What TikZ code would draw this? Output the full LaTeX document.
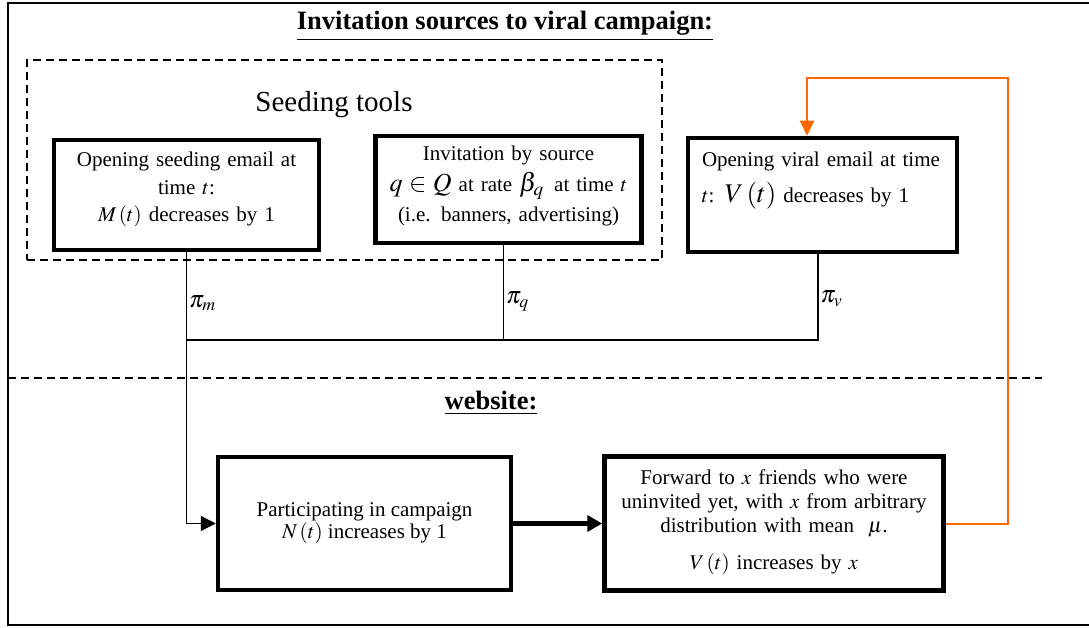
\documentclass[tikz,border=0pt]{standalone}
\usepackage{mathptmx}
\usepackage[no-math]{fontspec}
\setmainfont{Liberation Serif}
\usetikzlibrary{positioning,arrows.meta}

\definecolor{loopcolor}{RGB}{255,102,0}

\tikzset{
  stage/.style={draw, line width=4.5pt, inner sep=0pt, align=center,
    font=\fontsize{21}{27.5}\selectfont},
  link/.style={line width=1.3pt},
  pilabel/.style={right, inner xsep=2pt, font=\fontsize{24}{24}\selectfont},
  heading/.style={font=\fontsize{26.5}{30}\selectfont\bfseries},
  divider/.style={line width=1.5pt, dash pattern=on 8pt off 5pt},
  loopback/.style={draw=loopcolor, line width=2pt},
}

\begin{document}
\begin{tikzpicture}[x=1pt, y=-1pt]

  % page frame, open on the right
  \useasboundingbox (0,0) rectangle (1089,628);
  \clip (0,0) rectangle (1089,628);
  \draw[line width=2pt] (1100,3) -| (8,625) -- (1100,625);

  % Define nodes
  \node[heading] (title) at (505,26) {\underline{Invitation sources to viral campaign:}};
  \node[divider, draw, inner sep=0pt, minimum width=635pt, minimum height=200pt] (seedframe) at (344.5,160) {};
  \node[font=\fontsize{29}{30}\selectfont] (seedtitle) at (334,105) {Seeding tools};

  \node[stage, text width=265pt, text height=27pt, text depth=83pt] (mbox) at (186.5,195)
    {Opening seeding email at\\ time $t$:\\ $M\left(t\right)$ decreases by 1};
  \node[stage, text width=266pt, text height=25pt, text depth=82pt,
        font=\fontsize{21}{30.5}\selectfont, right=52pt of mbox, yshift=5.5pt] (qbox)
    {Invitation by source\\
     {\fontsize{26}{26}\selectfont$q\in Q$} at rate {\fontsize{26}{26}\selectfont$\beta_{q}$}\, at time $t$\\
     (i.e. banners, advertising)};
  \node[stage, align=left, inner xsep=14pt, text width=241pt, text height=29pt, text depth=85pt,
        font=\fontsize{21}{36}\selectfont, right=42pt of qbox, yshift=-5.5pt] (vbox)
    {Opening viral email at time\\
     $t$: {\fontsize{27}{27}\selectfont$V\left(t\right)$} decreases by 1};

  \node[heading] (webtitle) at (491,403) {\underline{website:}};
  \node[stage, minimum width=293pt, minimum height=133pt, font=\fontsize{21}{22}\selectfont] (pbox) at (364.5,523.5)
    {Participating in campaign\\ $N\left(t\right)$ increases by 1};
  \node[stage, text width=339pt, text height=28pt, text depth=106pt,
        font=\fontsize{21}{24}\selectfont, right=89pt of pbox] (fbox)
    {Forward to $x$ friends who were\\
     uninvited yet, with $x$ from arbitrary\\
     distribution with mean~~$\mu$.\\[13pt]
     $V\left(t\right)$ increases by $x$\hspace*{20pt}};

  % section divider
  \draw[divider] (8,378) -- (1042,378);

  % Connect the nodes
  \coordinate (bus) at (0,340);
  \coordinate (qfoot) at ([xshift=-5pt]qbox.south);
  \coordinate (vfoot) at ([xshift=-4.5pt]vbox.south);
  \coordinate (vtop) at ([xshift=-15.5pt]vbox.north);
  \coordinate (loopcorner) at (1008,78);

  \draw[link, -{Triangle[length=15pt,width=15pt]}] (mbox.south)
    -- node[pilabel, pos=0.58] {$\pi_m$} (mbox.south |- bus) |- (pbox.west);
  \draw[link] (qfoot) -- node[pilabel, pos=0.59] {$\pi_q$} (qfoot |- bus);
  \draw[link] (vfoot) -- node[pilabel, pos=0.52] {$\pi_v$} (vfoot |- bus) -- (mbox.south |- bus);

  \draw[line width=5pt, -{Triangle[length=15pt,width=16pt]}] (pbox.east) -- (fbox.west);
  \draw[loopback, -{Triangle[length=15pt,width=14pt]}] (fbox.east) -| (loopcorner) -| (vtop);

\end{tikzpicture}
\end{document}
